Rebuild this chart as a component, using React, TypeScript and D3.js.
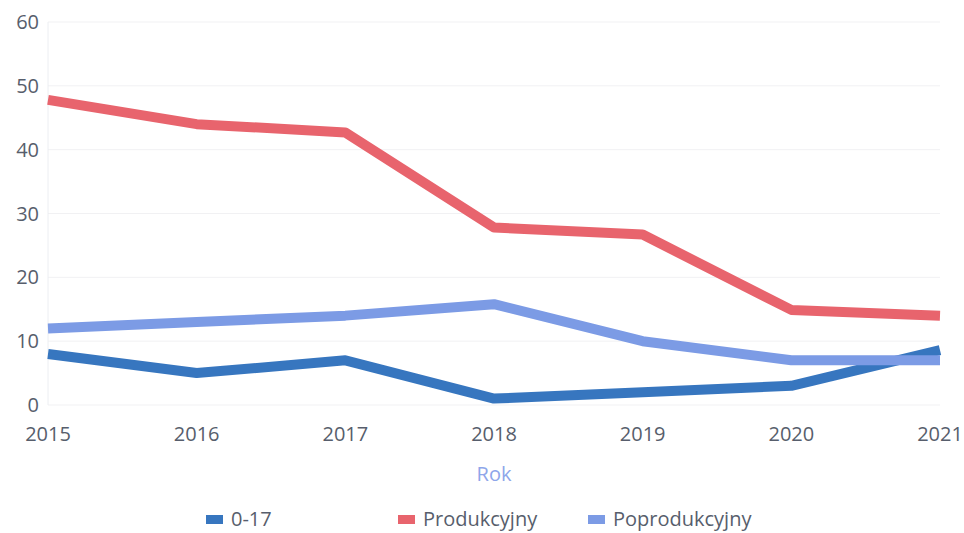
import React from "react";
import * as d3 from "d3";

const years = [2015, 2016, 2017, 2018, 2019, 2020, 2021];
const youth = [8, 5, 7, 1, 2, 3, 8.6];
const working = [47.8, 44, 42.7, 27.8, 26.7, 14.9, 14];
const retired = [12, 13, 14, 15.8, 10, 7, 7];
const yTicks = [0, 10, 20, 30, 40, 50, 60];

const seriesNames = ["0-17", "Produkcyjny", "Poprodukcyjny"];
const seriesColors = ["#3776bf", "#e8646d", "#7c9be5"];
const seriesData = [youth, working, retired];

export default function App() {
  const W = 964, H = 533;
  const x = d3.scaleLinear().domain([2015, 2021]).range([48, 940]);
  const y = d3.scaleLinear().domain([0, 60]).range([405, 22]);
  const line = d3.line<number>().x((_, i) => x(years[i])).y((d) => y(d));
  const font = "'Open Sans', 'Noto Sans', sans-serif";
  const textColor = "#575e6c";
  const legendX = [206, 398, 588];
  const drawOrder = [0, 2, 1];
  return (
    <svg width={W} height={H} style={{ position: "absolute", left: 0, top: 0, background: "#fff" }} fontFamily={font}>
      {yTicks.map((t) => (
        <line key={t} x1={x(2015)} x2={x(2021)} y1={y(t)} y2={y(t)} stroke="#f1f1f3" strokeWidth={1} />
      ))}
      <line x1={x(2015)} x2={x(2015)} y1={y(60)} y2={y(0)} stroke="#eceef2" strokeWidth={1} />
      {yTicks.map((t) => (
        <text key={t} x={39} y={y(t)} dy="0.35em" textAnchor="end" fontSize={20} fill={textColor}>{t}</text>
      ))}
      {years.map((yr) => (
        <text key={yr} x={x(yr)} y={441} textAnchor="middle" fontSize={20} fill={textColor}>{yr}</text>
      ))}
      <text x={494} y={481} textAnchor="middle" fontSize={20} fill="#8ea6ea">Rok</text>
      {drawOrder.map((i) => (
        <path key={i} d={line(seriesData[i]) || ""} fill="none" stroke={seriesColors[i]} strokeWidth={10} strokeLinejoin="round" />
      ))}
      {seriesNames.map((n, i) => (
        <g key={n} transform={`translate(${legendX[i]},519)`}>
          <rect x={0} y={-4} width={17} height={9} fill={seriesColors[i]} />
          <text x={25} y={0} dy="0.35em" fontSize={20} fill={textColor}>{n}</text>
        </g>
      ))}
    </svg>
  );
}
